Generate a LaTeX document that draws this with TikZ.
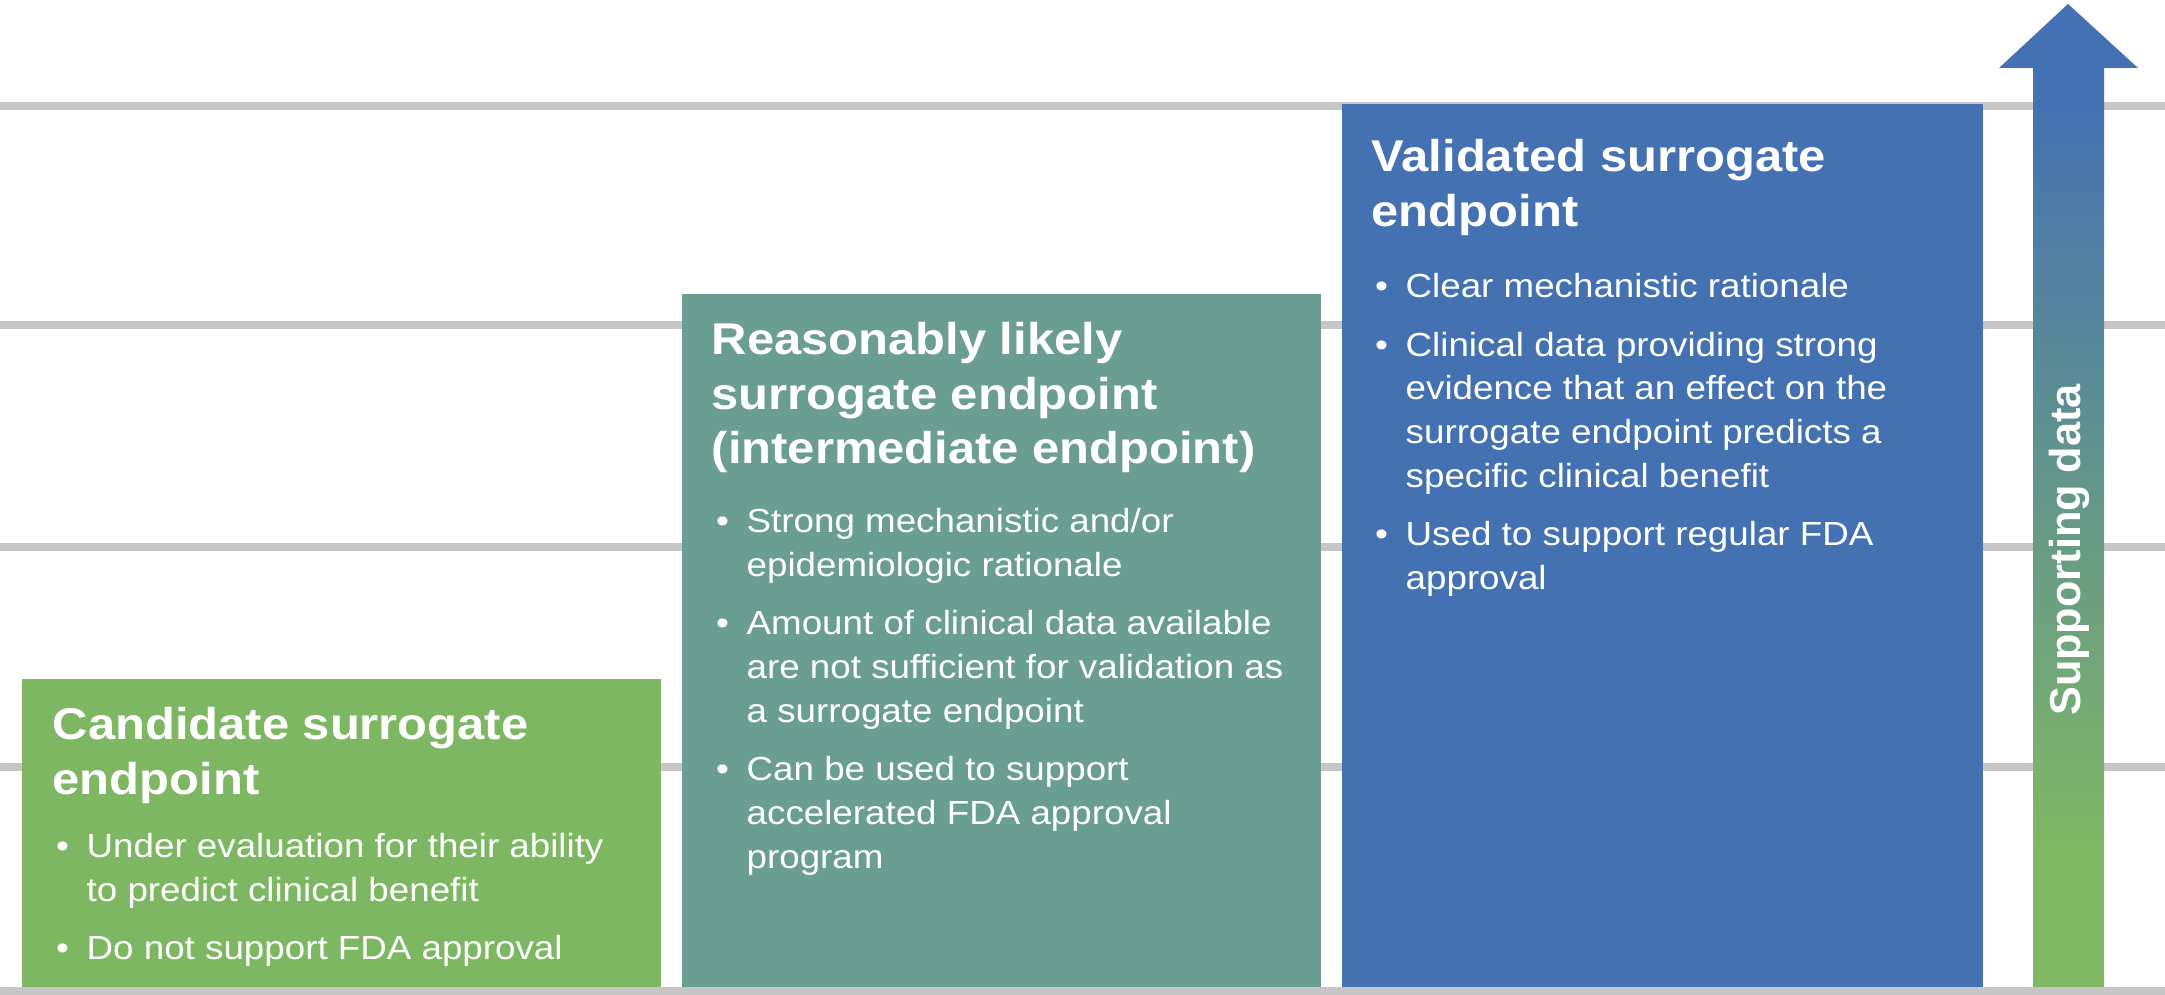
\documentclass[tikz,border=0pt]{standalone}
\usepackage{fontspec}
\setmainfont{Liberation Sans}[FakeStretch=1.1]
\newfontfamily\plainsans{Liberation Sans}
\definecolor{boxgreen}{HTML}{7DB762}
\definecolor{boxteal}{HTML}{6A9E92}
\definecolor{boxblue}{HTML}{4471B2}
\definecolor{gridgray}{HTML}{C6C6C6}
\definecolor{arrtop}{HTML}{4471B3}
\definecolor{arrbot}{HTML}{80B864}
\pgfdeclareverticalshading{arrowshade}{100bp}{color(0bp)=(arrbot); color(32bp)=(arrbot); color(70bp)=(arrtop); color(100bp)=(arrtop)}
\newcommand{\bt}{\makebox[9.67pt][l]{\hspace{1pt}\textbullet}}
\begin{document}
\begin{tikzpicture}[x=0.01cm,y=-0.01cm,
  gridline/.style={gridgray, line width=2pt},
  titletext/.style={anchor=base west, inner sep=0pt, text=white, font=\fontsize{12.65}{15.4}\selectfont\bfseries},
  bullettext/.style={anchor=base west, inner sep=0pt, text=white, font=\fontsize{9.5}{12.5}\selectfont}]
\useasboundingbox (0,0) rectangle (2165,995);
\fill[white] (0,0) rectangle (2165,995);
\foreach \yy in {106,325,547,767} \draw[gridline] (0,\yy) -- (2165,\yy);
\fill[gridgray] (0,987) rectangle (2165,995);
\fill[boxgreen] (22,679) rectangle (661,987);
\fill[boxteal] (682,294) rectangle (1321,987);
\fill[boxblue] (1342,104) rectangle (1983,987);
\shade[shading=arrowshade] (2033,987) -- (2033,68) -- (1999,68) -- (2068,4) -- (2138,68) -- (2104,68) -- (2104,987) -- cycle;
\node[rotate=90, anchor=base, inner sep=0pt, text=white, font=\plainsans\fontsize{12.3}{14}\selectfont\bfseries] (sup) at (2080,550) {Supporting data};
% green
\node[titletext] (t1) at (52,740) {\begin{tabular}[t]{@{}l@{}}Candidate surrogate\\endpoint\end{tabular}};
\node[bullettext] (b1) at (52,858) {\begin{tabular}[t]{@{}l@{}l@{}}\bt & Under evaluation for their ability\\ & to predict clinical benefit\\[4pt]
\bt & Do not support FDA approval\end{tabular}};
% teal
\node[titletext] (t2) at (711,355) {\begin{tabular}[t]{@{}l@{}}Reasonably likely\\surrogate endpoint\\(intermediate endpoint)\end{tabular}};
\node[bullettext] (b2) at (712,533) {\begin{tabular}[t]{@{}l@{}l@{}}\bt & Strong mechanistic and/or\\ & epidemiologic rationale\\[4pt]
\bt & Amount of clinical data available\\ & are not sufficient for validation as\\ & a surrogate endpoint\\[4pt]
\bt & Can be used to support\\ & accelerated FDA approval\\ & program\end{tabular}};
% blue
\node[titletext] (t3) at (1371,172) {\begin{tabular}[t]{@{}l@{}}Validated surrogate\\endpoint\end{tabular}};
\node[bullettext] (b3) at (1371,298) {\begin{tabular}[t]{@{}l@{}l@{}}\bt & Clear mechanistic rationale\\[4pt]
\bt & Clinical data providing strong\\ & evidence that an effect on the\\ & surrogate endpoint predicts a\\ & specific clinical benefit\\[4pt]
\bt & Used to support regular FDA\\ & approval\end{tabular}};
\end{tikzpicture}
\end{document}
